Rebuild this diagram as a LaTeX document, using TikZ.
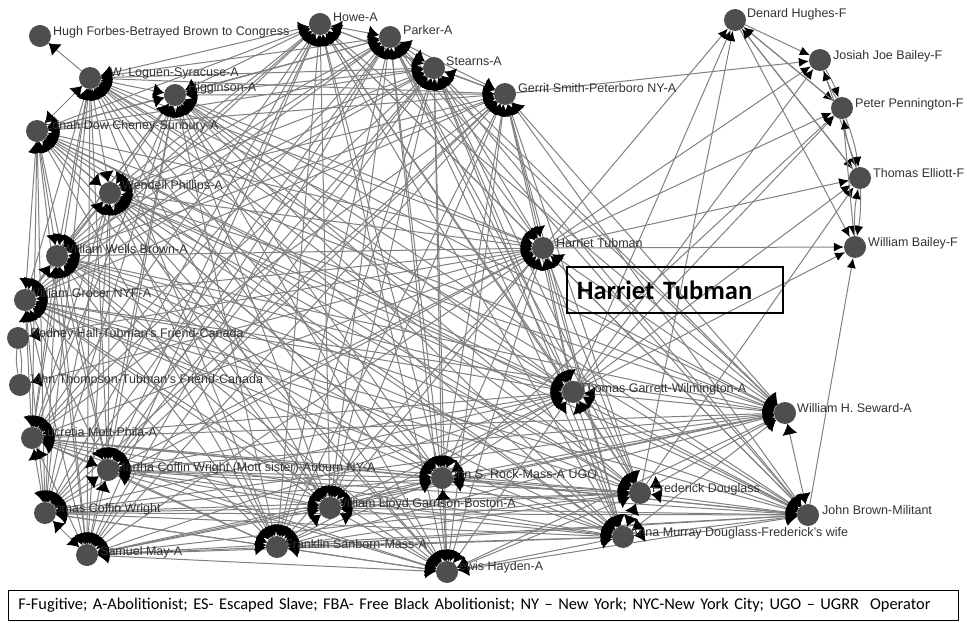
\documentclass[tikz,border=0pt]{standalone}
\usepackage{fontspec}
\setmainfont{Liberation Sans}
\newfontfamily\calib{Carlito}
\usetikzlibrary{arrows.meta,calc}
\pgfdeclarelayer{edges}
\pgfdeclarelayer{tips}
\pgfdeclarelayer{labels}
\pgfsetlayers{edges,tips,labels,main}
\definecolor{nodegray}{RGB}{78,78,78}
\definecolor{linegray}{RGB}{128,128,128}
\definecolor{labelgray}{RGB}{50,50,50}

\begin{document}
\begin{tikzpicture}[x=1pt,y=-1pt,
  actor/.style={circle,fill=nodegray,minimum size=22pt,inner sep=0pt},
  link/.style={draw=linegray,line width=1pt},
  flink/.style={draw=linegray,line width=1pt,-{Latex[length=10pt,width=9pt,color=black]}},
  tipmark/.style={-{Latex[length=10.5pt,width=15pt]},black,line width=0.7pt},
  actorname/.style={anchor=base west,font=\fontsize{12.5}{14}\selectfont,text=labelgray,inner sep=0pt},
]
\useasboundingbox (0,0) rectangle (967,623);

% ---- actors ----
\node[actor] (forbes)   at (40,36)   {};
\node[actor] (howe)     at (320,24)  {};
\node[actor] (parker)   at (390,37)  {};
\node[actor] (stearns)  at (434,68)  {};
\node[actor] (gerrit)   at (505,94)  {};
\node[actor] (loguen)   at (90,78)   {};
\node[actor] (higg)     at (175,95)  {};
\node[actor] (cheney)   at (37,131)  {};
\node[actor] (phillips) at (110,193) {};
\node[actor] (wwbrown)  at (57,256)  {};
\node[actor] (grocer)   at (25,300)  {};
\node[actor] (hall)     at (18,338)  {};
\node[actor] (thompson) at (20,385)  {};
\node[actor] (mott)     at (32,438)  {};
\node[actor] (martha)   at (108,470) {};
\node[actor] (twright)  at (45,513)  {};
\node[actor] (may)      at (87,555)  {};
\node[actor] (sanborn)  at (277,547) {};
\node[actor] (garrison) at (330,508) {};
\node[actor] (rock)     at (442,478) {};
\node[actor] (hayden)   at (447,572) {};
\node[actor] (tubman)   at (543,248) {};
\node[actor] (garrett)  at (573,392) {};
\node[actor] (douglass) at (640,493) {};
\node[actor] (anna)     at (623,537) {};
\node[actor] (seward)   at (785,413) {};
\node[actor] (jbrown)   at (808,515) {};
\node[actor] (denard)   at (735,20)  {};
\node[actor] (josiah)   at (820,60)  {};
\node[actor] (peter)    at (842,108) {};
\node[actor] (thomas)   at (860,178) {};
\node[actor] (wbailey)  at (855,247) {};

\def\core{howe,parker,stearns,gerrit,loguen,higg,cheney,phillips,wwbrown,grocer,mott,martha,twright,may,sanborn,garrison,rock,hayden,tubman,garrett,douglass,anna,seward,jbrown}

% ---- dense web among the abolitionist core ----
\begin{pgfonlayer}{edges}
\foreach \a [count=\i] in \core {
  \foreach \b [count=\j] in \core {
    \ifnum\j>\i
      \draw[link] (\a) -- (\b);
    \fi
  }
}
% peripheral ties
\draw[link] (loguen) -- (forbes);
\draw[link] (tubman) -- (hall);
\draw[link] (tubman) -- (thompson);
\draw[link] (hall) to[bend left=8] (thompson);
\draw[link] (thompson) to[bend left=8] (hall);
% ties to the fugitives
\foreach \a/\b in {tubman/denard,garrett/denard,douglass/denard,
                   tubman/josiah,garrett/josiah,gerrit/josiah,
                   tubman/peter,garrett/peter,rock/peter,
                   tubman/thomas,garrett/thomas,douglass/thomas,
                   tubman/wbailey,garrett/wbailey,jbrown/wbailey,
                   denard/josiah,denard/peter,denard/thomas,denard/wbailey,
                   peter/denard,thomas/denard,peter/wbailey,josiah/thomas}
  \draw[flink] (\a) -- (\b);
\foreach \a/\b in {josiah/peter,peter/thomas,thomas/wbailey} {
  \draw[flink] (\a) to[bend left=6] (\b);
  \draw[flink] (\b) to[bend left=6] (\a);
}
\end{pgfonlayer}

% ---- arrow heads gathering round each actor ----
\begin{pgfonlayer}{tips}
\foreach \a [count=\i] in \core {
  \foreach \b [count=\j] in \core {
    \ifnum\j>\i
      \draw[tipmark] ($(\b)!22pt!(\a)$) -- (\b);
      \draw[tipmark] ($(\a)!22pt!(\b)$) -- (\a);
    \fi
  }
}
\draw[tipmark] ($(forbes)!22pt!(loguen)$) -- (forbes);
\draw[tipmark] ($(hall)!22pt!(tubman)$) -- (hall);
\draw[tipmark] ($(thompson)!22pt!(tubman)$) -- (thompson);
\end{pgfonlayer}

% ---- names ----
\begin{pgfonlayer}{labels}
\node[actorname] (l-forbes)   at (53,35.5)  {Hugh Forbes-Betrayed Brown to Congress};
\node[actorname] (l-howe)     at (333,21.5) {Howe-A};
\node[actorname] (l-parker)   at (403,34.5) {Parker-A};
\node[actorname] (l-stearns)  at (446,65.5) {Stearns-A};
\node[actorname] (l-gerrit)   at (518,92.5) {Gerrit Smith-Peterboro NY-A};
\node[actorname] (l-loguen)   at (110,76.5) {W. Loguen-Syracuse-A};
\node[actorname] (l-higg)     at (188,91.5) {Higginson-A};
\node[actorname] (l-cheney)   at (44,129.5) {Ednah Dow Cheney-Sunbury-A};
\node[actorname] (l-phillips) at (122,189.5) {Wendell Phillips-A};
\node[actorname] (l-wwbrown)  at (62,253.5) {William Wells Brown-A};
\node[actorname] (l-grocer)   at (28,297.5) {William Grocer NYF-A};
\node[actorname] (l-hall)     at (30,337.5) {Rodney Hall-Tubman's Friend-Canada};
\node[actorname] (l-thompson) at (28,383.5) {John Thompson-Tubman's Friend-Canada};
\node[actorname] (l-mott)     at (40,436.5) {Lucretia Mott-Phila-A};
\node[actorname] (l-martha)   at (115,471.5) {Martha Coffin Wright (Mott sister)-Auburn NY-A};
\node[actorname] (l-twright)  at (40,512.5) {Thomas Coffin Wright};
\node[actorname] (l-may)      at (100,555.5) {Samuel May-A};
\node[actorname] (l-sanborn)  at (285,548.5) {Franklin Sanborn-Mass-A};
\node[actorname] (l-garrison) at (335,507.5) {William Lloyd Garrison-Boston-A};
\node[actorname] (l-rock)     at (444,478.5) {John S. Rock-Mass-A UGO};
\node[actorname] (l-hayden)   at (452,570.5) {Lewis Hayden-A};
\node[actorname] (l-tubman)   at (556,247.5) {Harriet Tubman};
\node[actorname] (l-garrett)  at (580,392.5) {Thomas Garrett-Wilmington-A};
\node[actorname] (l-douglass) at (652,492.5) {Frederick Douglass};
\node[actorname] (l-anna)     at (630,536.5) {Anna Murray Douglass-Frederick's wife};
\node[actorname] (l-seward)   at (797,412.5) {William H. Seward-A};
\node[actorname] (l-jbrown)   at (822,514.5) {John Brown-Militant};
\node[actorname] (l-denard)   at (747,17.5)  {Denard Hughes-F};
\node[actorname] (l-josiah)   at (833,59.5)  {Josiah Joe Bailey-F};
\node[actorname] (l-peter)    at (855,107.5) {Peter Pennington-F};
\node[actorname] (l-thomas)   at (873,177.5) {Thomas Elliott-F};
\node[actorname] (l-wbailey)  at (868,246.5) {William Bailey-F};
\end{pgfonlayer}

% ---- callout and key ----
\node[draw,line width=1.6pt,anchor=north west,minimum width=216pt,minimum height=46pt,
      text width=196pt,inner xsep=10pt,align=left,
      font=\calib\bfseries\fontsize{26.5}{28}\selectfont] (callout) at (566,266) {Harriet Tubman};
\node[draw,line width=0.8pt,anchor=north west,minimum width=950pt,minimum height=30pt,
      text width=930pt,inner xsep=10pt,align=left,
      font=\calib\fontsize{16.4}{18}\selectfont] (key) at (8,590)
  {F-Fugitive; A-Abolitionist; ES- Escaped Slave; FBA- Free Black Abolitionist; NY – New York; NYC-New York City; UGO – UGRR\ \ Operator};
\end{tikzpicture}
\end{document}
